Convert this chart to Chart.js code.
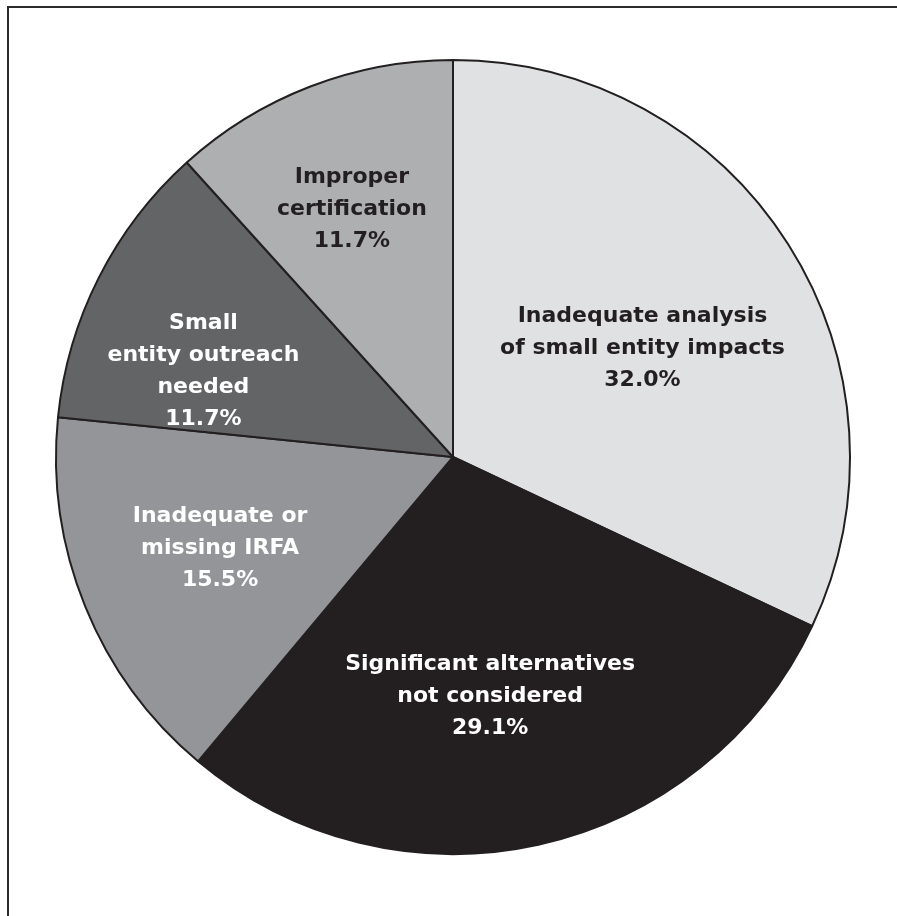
<!DOCTYPE html>
<html>
<head>
<meta charset="utf-8">
<script src="https://cdn.jsdelivr.net/npm/chart.js@4.4.0/dist/chart.umd.min.js"></script>
<style>
  html, body { margin: 0; padding: 0; background: #fff; }
  #wrap { position: relative; width: 897px; height: 916px; overflow: hidden; }
  #frame { position: absolute; left: 7px; top: 6px; right: -10px; bottom: -10px;
           border-top: 2px solid #2b2b2b; border-left: 2px solid #2b2b2b; }
  canvas { position: absolute; left: 0; top: 0; }
</style>
</head>
<body>
<div id="wrap">
  <div id="frame"></div>
  <canvas id="pie_chart" width="897" height="916"></canvas>
</div>
<script>
var categories = [
  ["Inadequate analysis", "of small entity impacts"],
  ["Significant alternatives", "not considered"],
  ["Inadequate or", "missing IRFA"],
  ["Small", "entity outreach", "needed"],
  ["Improper", "certification"]
];
var shares = [32.0, 29.1, 15.5, 11.7, 11.7];
var shareLabels = ["32.0%", "29.1%", "15.5%", "11.7%", "11.7%"];

var sliceColors = ["#e0e1e3", "#231f20", "#939598", "#636466", "#aeafb1"];
var textColors = ["#231f20", "#ffffff", "#ffffff", "#ffffff", "#231f20"];
// how far out (fraction of radius) each label sits, and a small angle nudge (deg)
var labelRadius = [0.55, 0.61, 0.63, 0.665, 0.675];
var labelNudge = [2.6, 3.6, 0.8, -7.8, -1.1];

var sliceLabels = {
  id: "sliceLabels",
  afterDatasetsDraw: function(chart) {
    var ctx = chart.ctx;
    var arcs = chart.getDatasetMeta(0).data;
    ctx.save();
    ctx.font = "bold 22px 'DejaVu Sans'";
    ctx.textAlign = "center";
    ctx.textBaseline = "middle";
    var lineH = 32;
    for (var i = 0; i < arcs.length; i++) {
      var a = arcs[i];
      var mid = (a.startAngle + a.endAngle) / 2 + labelNudge[i] * Math.PI / 180;
      var r = a.outerRadius * labelRadius[i];
      var cx = a.x + Math.cos(mid) * r;
      var cy = a.y + Math.sin(mid) * r;
      var lines = categories[i].concat([shareLabels[i]]);
      var y0 = cy - (lines.length - 1) * lineH / 2;
      ctx.fillStyle = textColors[i];
      for (var j = 0; j < lines.length; j++) {
        ctx.fillText(lines[j], cx, y0 + j * lineH);
      }
    }
    ctx.restore();
  }
};

const pie_ctx = document.getElementById("pie_chart");
new Chart(pie_ctx, {
  type: "pie",
  data: {
    labels: categories.map(function(c) { return c.join(" "); }),
    datasets: [
      {
        data: shares,
        backgroundColor: sliceColors,
        borderColor: "#231f20",
        borderWidth: 2
      }
    ]
  },
  options: {
    responsive: false,
    animation: false,
    layout: { padding: { left: 55, right: 46, top: 59, bottom: 61 } },
    plugins: {
      legend: { display: false },
      tooltip: { enabled: false }
    }
  },
  plugins: [sliceLabels]
});
</script>
</body>
</html>
